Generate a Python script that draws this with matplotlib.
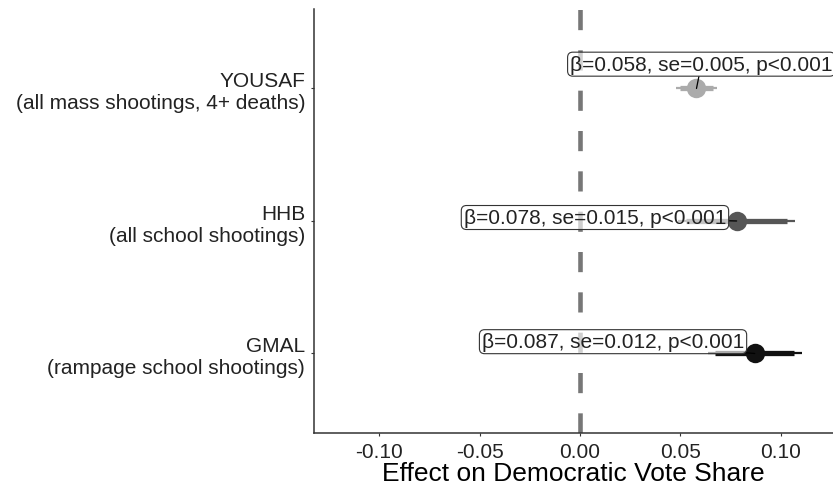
import matplotlib
matplotlib.use("Agg")
import matplotlib.pyplot as plt

plt.rcParams['font.family'] = ['Liberation Sans', 'DejaVu Sans']

# bottom to top
categories = ["GMAL\n(rampage school shootings)",
              "HHB\n(all school shootings)",
              "YOUSAF\n(all mass shootings, 4+ deaths)"]
beta = [0.087, 0.078, 0.058]
se = [0.012, 0.015, 0.005]
p_text = ["p<0.001", "p<0.001", "p<0.001"]
# interval ends
lo95 = [0.0635, 0.049, 0.048]
hi95 = [0.1105, 0.107, 0.068]
lo90 = [0.067, 0.053, 0.050]
hi90 = [0.1065, 0.103, 0.066]

colors = ["#111111", "#565656", "#ababab"]
label_offsets = [(-102, 8.5), (-102, 2.5), (3.5, 17.5)]

fig = plt.figure(figsize=(8.33, 4.89), dpi=100)
ax = fig.add_axes([0.377, 0.1125, 0.623, 0.8671])

ax.axvline(0, color="#777777", lw=3.3, dashes=(4.4, 4.4), zorder=1)

for i, cat in enumerate(categories):
    c = colors[i]
    ax.plot([lo95[i], hi95[i]], [i, i], color=c, lw=1.6, solid_capstyle='butt', zorder=2)
    ax.plot([lo90[i], hi90[i]], [i, i], color=c, lw=3.8, solid_capstyle='butt', zorder=3)
    ax.plot(beta[i], i, 'o', color=c, markersize=14, markeredgewidth=0, zorder=4)

for i in range(len(categories)):
    txt = f"β={beta[i]:.3f}, se={se[i]:.3f}, {p_text[i]}"
    ax.annotate(txt, xy=(beta[i], i), xytext=label_offsets[i],
                textcoords='offset points', ha='center', va='center',
                fontsize=15, color="#222222", zorder=6,
                bbox=dict(boxstyle="round,pad=0.12,rounding_size=0.25",
                          facecolor=(1, 1, 1, 0.65), edgecolor="#333333", lw=0.8),
                arrowprops=dict(arrowstyle='-', color='black', lw=0.9,
                                shrinkA=0, shrinkB=0))

ax.set_xlim(-0.1325, 0.126)
ax.set_ylim(-0.6, 2.6)
ax.set_xticks([-0.10, -0.05, 0.00, 0.05, 0.10])
ax.set_xticklabels(["-0.10", "-0.05", "0.00", "0.05", "0.10"])
ax.set_yticks(range(len(categories)))
ax.set_yticklabels(categories)

ax.spines['top'].set_visible(False)
ax.spines['right'].set_visible(False)
for s in ['left', 'bottom']:
    ax.spines[s].set_color("#333333")
    ax.spines[s].set_linewidth(1.1)

ax.tick_params(axis='both', labelsize=15, labelcolor="#222222",
               color="#333333", length=2.5, width=0.8, pad=4)
ax.set_xlabel("Effect on Democratic Vote Share", fontsize=19, labelpad=0)

fig.savefig("out.png", dpi=100)
